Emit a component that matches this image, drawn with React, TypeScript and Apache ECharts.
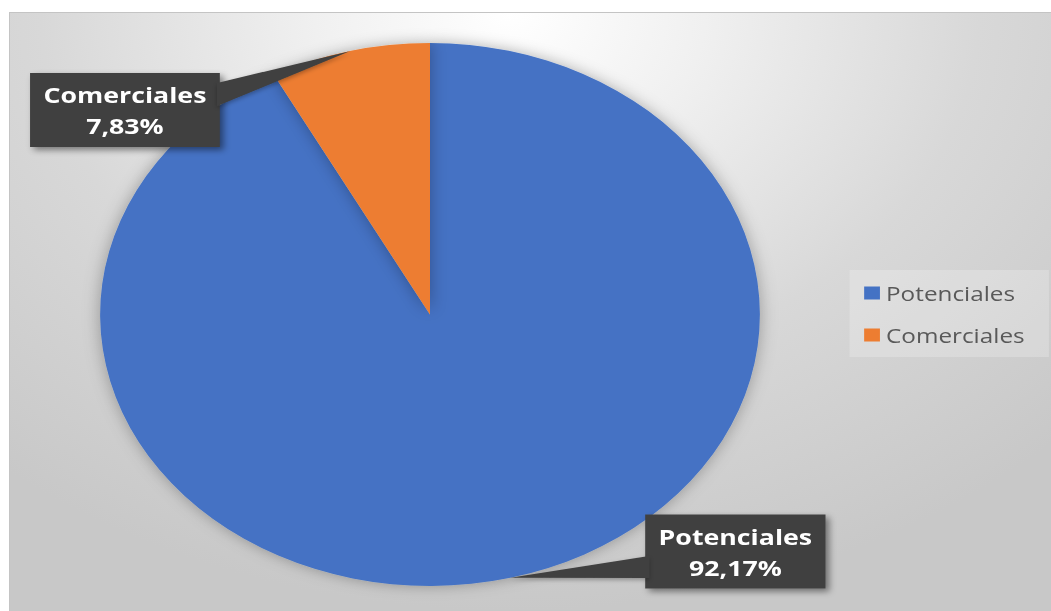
import React, { useEffect, useRef } from "react";
import * as echarts from "echarts";

const categories = ["Potenciales", "Comerciales"];
const values = [92.17, 7.83];
const colors = ["#4472C4", "#ED7D31"];

const SX = 1.215;
const W = 1041 / SX;
const H = 598;
const CX = 420 / SX;
const CY = 301.5;
const R = 271.5;
const LABEL_POS = [
  [597, 538.5],
  [94.6, 97],
];
// leader base on the label box edge: [x, yTop, yBottom]
const LEADER_BASE = [
  [526, 543, 565],
  [170.5, 70, 93],
];

export default function App() {
  const ref = useRef<HTMLDivElement>(null);
  useEffect(() => {
    const chart = echarts.init(ref.current!, null, { renderer: "svg", width: W, height: H });
    const total = values.reduce((a, b) => a + b, 0);
    let cum = 0;
    const tips = values.map((v) => {
      const mid = (cum + v / 2) / total;
      cum += v;
      const th = mid * Math.PI * 2;
      return [CX + R * Math.sin(th), CY - R * Math.cos(th)];
    });
    const leaders = tips.map((t, i) => ({
      type: "polygon",
      z: 3,
      silent: true,
      shape: {
        points: [
          [LEADER_BASE[i][0], LEADER_BASE[i][1]],
          [t[0], t[1]],
          [LEADER_BASE[i][0], LEADER_BASE[i][2]],
        ],
      },
      style: { fill: "#404040", shadowBlur: 4, shadowColor: "rgba(0,0,0,0.3)", shadowOffsetY: 2 },
    }));
    chart.setOption({
      animation: false,
      graphic: leaders,
      legend: {
        orient: "vertical",
        left: 691,
        top: 257,
        padding: [13, 20, 12, 12],
        itemGap: 22,
        icon: "rect",
        itemWidth: 13,
        itemHeight: 13,
        backgroundColor: "rgba(255,255,255,0.22)",
        data: categories,
        textStyle: { color: "#595959", fontSize: 20, fontFamily: "Open Sans" },
      },
      series: [
        {
          type: "pie",
          z: 2,
          center: [CX, CY],
          radius: R,
          startAngle: 90,
          clockwise: true,
          data: categories.map((c, i) => ({ name: c, value: values[i], itemStyle: { color: colors[i] } })),
          itemStyle: { borderWidth: 0, shadowBlur: 14, shadowColor: "rgba(0,0,0,0.3)" },
          emphasis: { disabled: true },
          label: {
            show: true,
            position: "outside",
            formatter: (p: any) => `${p.name}\n${p.percent.toFixed(2).replace(".", ",")}%`,
            color: "#ffffff",
            fontWeight: "bold",
            fontSize: 22,
            fontFamily: "Open Sans",
            lineHeight: 31,
            backgroundColor: "#404040",
            padding: [6, 11],
            align: "center",
            shadowColor: "rgba(0,0,0,0.45)",
            shadowBlur: 6,
            shadowOffsetX: 3,
            shadowOffsetY: 3,
          },
          labelLine: { show: false },
          labelLayout: (p: any) => ({
            x: LABEL_POS[p.dataIndex][0],
            y: LABEL_POS[p.dataIndex][1],
            align: "center",
            verticalAlign: "middle",
          }),
        },
      ],
    });
    return () => chart.dispose();
  }, []);
  return (
    <div
      ref={ref}
      style={{
        position: "fixed",
        left: 10,
        top: 13,
        width: W,
        height: H,
        transform: `scaleX(${SX})`,
        transformOrigin: "0 0",
        outline: "1px solid #c4c4c4",
        background:
          "radial-gradient(ellipse 75% 100% at 48% 0%, #ffffff 0%, #f0f0f0 25%, #d8d8d8 60%, #c8c8c8 100%)",
      }}
    />
  );
}
